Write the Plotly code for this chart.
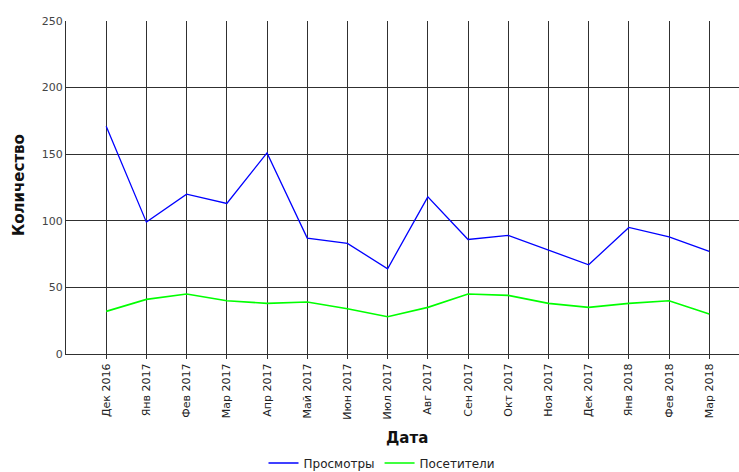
import plotly.graph_objects as go

months = ["Дек 2016", "Янв 2017", "Фев 2017", "Мар 2017", "Апр 2017", "Май 2017",
          "Июн 2017", "Июл 2017", "Авг 2017", "Сен 2017", "Окт 2017", "Ноя 2017",
          "Дек 2017", "Янв 2018", "Фев 2018", "Мар 2018"]
views = [171, 99, 120, 113, 151, 87, 83, 64, 118, 86, 89, 78, 67, 95, 88, 77]
visitors = [32, 41, 45, 40, 38, 39, 34, 28, 35, 45, 44, 38, 35, 38, 40, 30]
y_ticks = [0, 50, 100, 150, 200, 250]

FONT = "DejaVu Sans, sans-serif"
W, H = 739, 472
L, R, T, B = 66, 0, 21, 118
PW, PH = W - L - R, H - T - B
GRID = "#303030"


def px_x(px):
    return (px - L) / PW


def px_y(py):
    return (H - B - py) / PH


fig = go.Figure()
fig.add_trace(go.Scatter(x=months, y=views, mode="lines", name="Просмотры",
                         line=dict(color="#0000ff", width=1.3)))
fig.add_trace(go.Scatter(x=months, y=visitors, mode="lines", name="Посетители",
                         line=dict(color="#00ff00", width=1.6)))

fig.update_layout(
    width=W, height=H,
    margin=dict(l=L, r=R, t=T, b=B, autoexpand=False),
    paper_bgcolor="white", plot_bgcolor="white",
    font=dict(family=FONT, size=11, color="#333"),
    showlegend=True,
    legend=dict(orientation="h", xref="container", yref="container",
                x=382 / W, xanchor="center", y=(H - 463) / H, yanchor="middle",
                font=dict(size=12, color="#222", family=FONT),
                itemwidth=30, tracegroupgap=0, bgcolor="rgba(0,0,0,0)"),
    xaxis=dict(
        type="category", categoryorder="array", categoryarray=months,
        range=[-1, 15.74], automargin=False,
        tickangle=-90, tickfont=dict(size=11, color="#222", family=FONT),
        showgrid=True, gridcolor=GRID, gridwidth=1.3,
        showline=True, linecolor=GRID, linewidth=1.3,
        ticks="outside", ticklen=4, tickcolor=GRID, tickwidth=1.3,
        zeroline=False, fixedrange=True,
    ),
    yaxis=dict(
        range=[0, 250], tickvals=y_ticks, automargin=False,
        tickfont=dict(size=11, color="#444", family=FONT),
        showgrid=True, gridcolor=GRID, gridwidth=1.3,
        showline=True, linecolor=GRID, linewidth=1.3,
        ticks="", zeroline=False, fixedrange=True,
    ),
    annotations=[
        dict(text="<b>Дата</b>", xref="paper", yref="paper",
             x=px_x(407), y=px_y(438),
             xanchor="center", yanchor="middle", showarrow=False,
             font=dict(size=15, color="#111", family=FONT)),
        dict(text="<b>Количество</b>", xref="paper", yref="paper",
             x=px_x(19), y=px_y(185), textangle=-90,
             xanchor="center", yanchor="middle", showarrow=False,
             font=dict(size=15, color="#111", family=FONT)),
    ],
)

fig.write_html(
    "out.html",
    config={"displayModeBar": False},
    post_script="document.body.style.margin='0';document.body.style.overflow='hidden';",
)
